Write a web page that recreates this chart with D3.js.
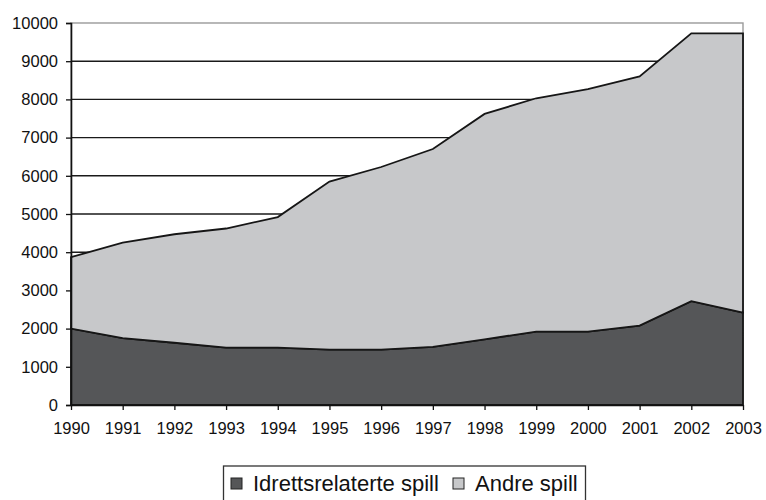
<!DOCTYPE html>
<html>
<head>
<meta charset="utf-8">
<script src="https://cdn.jsdelivr.net/npm/d3@7"></script>
<style>
  body { margin: 0; background: #fff; }
  text { font-family: "Liberation Sans", Arial, sans-serif; fill: #111; }
</style>
</head>
<body>
<svg id="chart" width="766" height="500"></svg>
<script>
// years on the category axis
var years = [1990, 1991, 1992, 1993, 1994, 1995, 1996, 1997, 1998, 1999, 2000, 2001, 2002, 2003]
// sport related games (bottom series)
var idrett = [2000, 1750, 1630, 1500, 1500, 1450, 1450, 1520, 1720, 1920, 1920, 2080, 2720, 2420]
// other games (stacked on top)
var andre = [1870, 2500, 2840, 3120, 3420, 4400, 4780, 5180, 5900, 6110, 6350, 6520, 7010, 7310]
var seriesNames = ["Idrettsrelaterte spill", "Andre spill"]
var seriesColors = ["#555658", "#c7c8ca"]
var yTicks = [0, 1000, 2000, 3000, 4000, 5000, 6000, 7000, 8000, 9000, 10000]

var svg = d3.select("#chart")
var margin = {top: 23, right: 23, bottom: 95, left: 71}
var width = 766
var height = 500

var rows = years.map(function(y, i){ return {year: y, idrett: idrett[i], andre: andre[i]} })
var stacked = d3.stack().keys(["idrett", "andre"])(rows)

var xScale = d3.scalePoint()
	.domain(years)
	.range([margin.left, width - margin.right])

var yScale = d3.scaleLinear()
	.domain([0, 10000])
	.range([height - margin.bottom, margin.top])

// gridlines behind the areas
svg.append("g")
	.selectAll("line")
	.data(yTicks.slice(1, -1))
	.enter()
	.append("line")
	.attr("x1", margin.left)
	.attr("x2", width - margin.right)
	.attr("y1", function(d){ return yScale(d) })
	.attr("y2", function(d){ return yScale(d) })
	.attr("stroke", "#1a1a1a")
	.attr("stroke-width", 1.4)

// plot area border
svg.append("rect")
	.attr("x", margin.left)
	.attr("y", margin.top)
	.attr("width", width - margin.right - margin.left)
	.attr("height", height - margin.bottom - margin.top)
	.attr("fill", "none")
	.attr("stroke", "#9a9a9a")
	.attr("stroke-width", 1.4)

var area = d3.area()
	.x(function(d){ return xScale(d.data.year) })
	.y0(function(d){ return yScale(d[0]) })
	.y1(function(d){ return yScale(d[1]) })

svg.append("g")
	.selectAll("path")
	.data(stacked)
	.enter()
	.append("path")
	.attr("d", area)
	.attr("fill", function(d, i){ return seriesColors[i] })
	.attr("stroke", "#161616")
	.attr("stroke-width", 1.8)
	.attr("stroke-linejoin", "miter")

// y axis
var yAxis = svg.append("g")
	.attr("transform", "translate(" + margin.left + ",0)")
	.call(d3.axisLeft(yScale).tickValues(yTicks).tickSize(5).tickPadding(8).tickFormat(d3.format("d")))
yAxis.select(".domain").attr("stroke", "#111").attr("stroke-width", 1.6)
yAxis.selectAll(".tick line").attr("stroke", "#111").attr("stroke-width", 1.3)
yAxis.selectAll("text").style("font-size", "16.5px")

// x axis
var xAxis = svg.append("g")
	.attr("transform", "translate(0," + yScale(0) + ")")
	.call(d3.axisBottom(xScale).tickSize(5).tickPadding(12).tickSizeOuter(0))
xAxis.select(".domain").attr("stroke", "#111").attr("stroke-width", 1.6)
xAxis.selectAll(".tick line").attr("stroke", "#111").attr("stroke-width", 1.3)
xAxis.selectAll("text").style("font-size", "16.5px")

// legend
var legend = svg.append("g")
legend.append("rect")
	.attr("x", 223.5)
	.attr("y", 466)
	.attr("width", 362)
	.attr("height", 45)
	.attr("fill", "#fff")
	.attr("stroke", "#333")
	.attr("stroke-width", 1.3)

var legendX = [231, 453]
seriesNames.forEach(function(name, i){
	legend.append("rect")
		.attr("x", legendX[i])
		.attr("y", 478)
		.attr("width", 11)
		.attr("height", 11)
		.attr("fill", seriesColors[i])
		.attr("stroke", "#222")
		.attr("stroke-width", 1)
	legend.append("text")
		.attr("x", legendX[i] + 22)
		.attr("y", 491)
		.style("font-size", "22px")
		.text(name)
})
</script>
</body>
</html>
